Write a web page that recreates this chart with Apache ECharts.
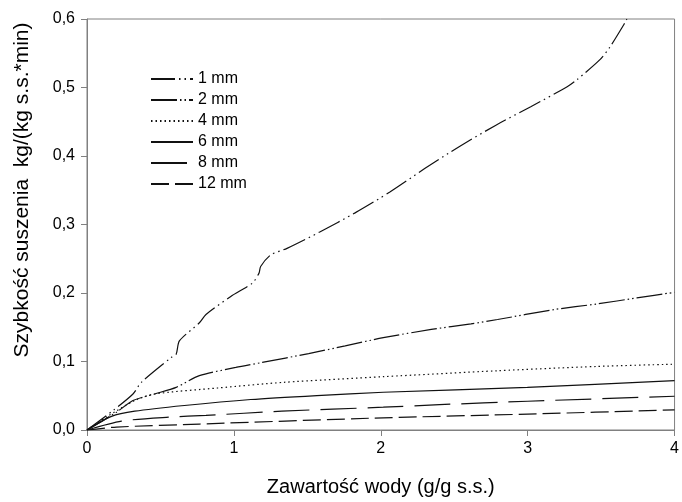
<!DOCTYPE html>
<html>
<head>
<meta charset="utf-8">
<script src="https://cdn.jsdelivr.net/npm/echarts@6/dist/echarts.min.js"></script>
<style>html,body{margin:0;padding:0;background:#fff;}#c{width:682px;height:502px;}</style>
</head>
<body>
<div id="c"></div>
<script>
const seriesNames = ['1 mm', '2 mm', '4 mm', '6 mm', '8 mm', '12 mm'];
const xTicks = [0, 1, 2, 3, 4];
const yTicks = [0, 0.1, 0.2, 0.3, 0.4, 0.5, 0.6];
const xTitle = 'Zawartość wody (g/g s.s.)';
const yTitle = 'Szybkość suszenia  kg/(kg s.s.*min)';

const data1mm = [[0,0],[0.178,0.0286],[0.313,0.0526],[0.370,0.0696],[0.573,0.1058],[0.607,0.1106],[0.629,0.130],[0.765,0.1565],[0.810,0.1686],[0.979,0.195],[1.126,0.2145],[1.171,0.229],[1.182,0.2387],[1.250,0.2555],[1.362,0.2652],[1.588,0.2894],[1.825,0.317],[2.062,0.3474],[2.299,0.3816],[2.536,0.414],[2.784,0.445],[3.021,0.472],[3.269,0.501],[3.337,0.5116],[3.492,0.5406],[3.560,0.559],[3.661,0.594],[3.675,0.600]];
const data2mm = [[0,0],[0.201,0.026],[0.313,0.043],[0.460,0.0526],[0.607,0.0623],[0.765,0.0793],[1.013,0.0913],[1.193,0.0986],[1.509,0.1116],[1.758,0.1228],[2.017,0.1348],[2.344,0.1468],[2.614,0.155],[2.795,0.1613],[3.179,0.1758],[3.472,0.184],[3.743,0.1928],[4.0,0.201]];
const data4mm = [[0,0],[0.133,0.019],[0.325,0.043],[0.46,0.0526],[0.889,0.0613],[1.340,0.0696],[2.017,0.0778],[2.795,0.0865],[3.472,0.0928],[4.0,0.0961]];
const data6mm = [[0,0],[0.167,0.0199],[0.325,0.0275],[0.663,0.0358],[1.115,0.0445],[1.565,0.0503],[2.017,0.0551],[2.998,0.0623],[4.0,0.072]];
const data8mm = [[0,0],[0.235,0.013],[0.562,0.0188],[0.81,0.0213],[1.327,0.0275],[2.017,0.0333],[2.4,0.037],[3.0,0.042],[4.0,0.0493]];
const data12mm = [[0,0],[0.2,0.0043],[0.765,0.0087],[2.017,0.0178],[3.0,0.0232],[4.0,0.0294]];

const dataSets = [data1mm, data2mm, data4mm, data6mm, data8mm, data12mm];
const dashes = [
  [24,4,1.5,4,1.5,4],
  [26,3,1.5,3,1.5,3],
  [1.5,3],
  'solid',
  [36,11],
  [18,6]
];
const FONT = 'Liberation Sans, Arial, sans-serif';

const chart = echarts.init(document.getElementById('c'));
chart.setOption({
  animation: false,
  backgroundColor: '#fff',
  textStyle: { fontFamily: FONT },
  grid: { left: 87, right: 4, top: 19, bottom: 69, show: true, borderColor: '#808080', borderWidth: 1 },
  legend: {
    orient: 'vertical', left: 145, top: 66,
    itemWidth: 42, itemHeight: 14, itemGap: 5,
    itemStyle: { opacity: 0 },
    textStyle: { fontSize: 16, color: '#000', fontFamily: FONT },
    data: seriesNames
  },
  graphic: [{
    type: 'text', x: 22, y: 190, rotation: Math.PI / 2,
    style: { text: yTitle, font: '21px ' + FONT, fill: '#000', align: 'center', verticalAlign: 'middle' }
  }],
  xAxis: {
    type: 'value', min: xTicks[0], max: xTicks[xTicks.length-1], interval: 1,
    name: xTitle, nameLocation: 'middle', nameGap: 47,
    nameTextStyle: { fontSize: 20, color: '#000' },
    axisLine: { lineStyle: { color: '#808080', width: 1 } },
    axisTick: { inside: false, length: 6, lineStyle: { color: '#808080' } },
    axisLabel: { fontSize: 16, color: '#000', margin: 11 },
    splitLine: { show: false }
  },
  yAxis: {
    type: 'value', min: yTicks[0], max: yTicks[yTicks.length-1], interval: 0.1,
    axisLine: { show: true, lineStyle: { color: '#808080', width: 1 } },
    axisTick: { show: true, inside: false, length: 6, lineStyle: { color: '#808080' } },
    axisLabel: { fontSize: 16, color: '#000', margin: 12, formatter: v => v.toFixed(1).replace('.', ',') },
    splitLine: { show: false }
  },
  series: seriesNames.map((n, i) => ({
    name: n, type: 'line', data: dataSets[i], symbol: 'none', showSymbol: false,
    smooth: 0.25, clip: true,
    lineStyle: { color: '#111', width: 1.2, type: dashes[i], cap: 'butt' },
    itemStyle: { color: '#111' }
  }))
});
</script>
</body>
</html>
